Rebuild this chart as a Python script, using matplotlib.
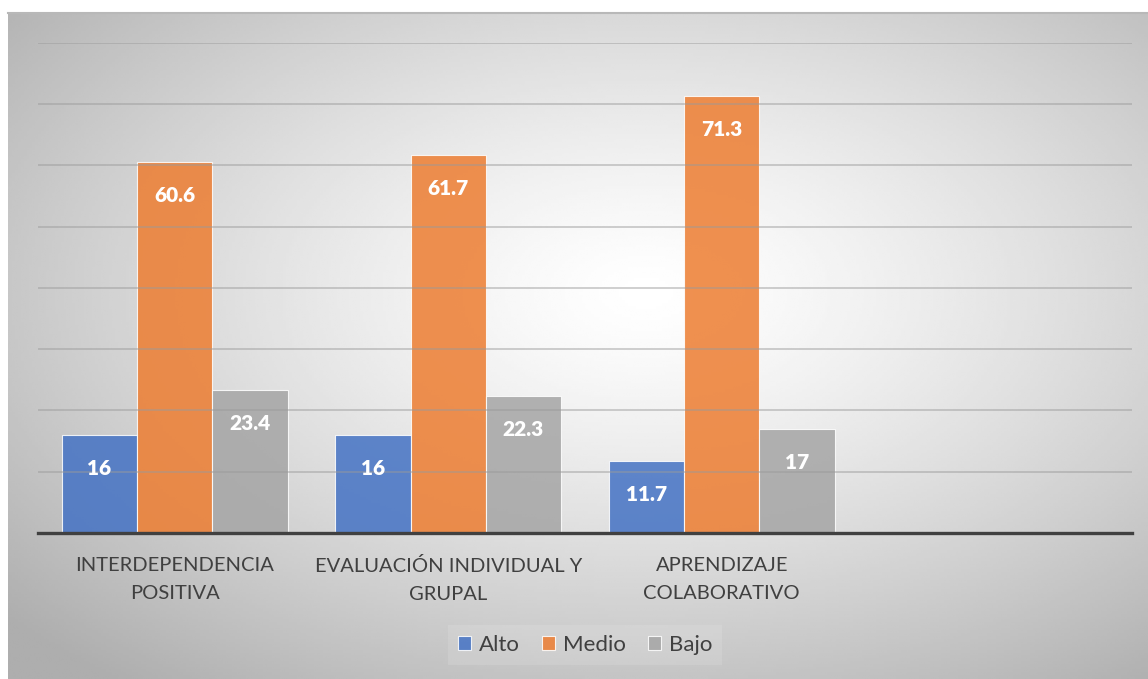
import numpy as np
import matplotlib.pyplot as plt

# chart data
categories = ["INTERDEPENDENCIA\nPOSITIVA", "EVALUACIÓN INDIVIDUAL Y\nGRUPAL",
              "APRENDIZAJE\nCOLABORATIVO", ""]
series_names = ["Alto", "Medio", "Bajo"]
alto = [16, 16, 11.7]
medio = [60.6, 61.7, 71.3]
bajo = [23.4, 22.3, 17]
colors = ["#4472C4", "#ED7D31", "#A5A5A5"]

plt.rcParams['font.family'] = ['Lato', 'DejaVu Sans']

W, H = 1148, 679
fig = plt.figure(figsize=(W / 100, H / 100), dpi=100)
fig.patch.set_facecolor("white")

# radial gradient background box
bg = fig.add_axes([8 / W, 0, 1 - 8 / W, (H - 13) / H])
gx, gy = np.meshgrid(np.linspace(0, 1, 400), np.linspace(0, 1, 240))
d = np.sqrt(((gx - 0.56) / 0.75) ** 2 + ((gy - 0.42) / 0.75) ** 2)
shade = 1.0 - 0.32 * np.clip(d, 0, 1) ** 1.3
bg.imshow(shade, cmap="gray", vmin=0, vmax=1, aspect="auto",
          extent=[0, 1, 0, 1], origin="upper", interpolation="bilinear")
bg.set_axis_off()
bg.plot([0, 1], [1, 1], color="#b8b8b8", lw=1.5, transform=bg.transAxes, clip_on=False)

ax = fig.add_axes([38 / W, (H - 533) / H, (1132 - 38) / W, (533 - 42.6) / H])
ax.set_facecolor("none")

x = np.arange(len(categories))
n = len(alto)
width = 0.275
for i, (name, vals, c) in enumerate(zip(series_names, [alto, medio, bajo], colors)):
    bars = ax.bar(x[:n] + (i - 1) * width, vals, width, color=c, alpha=0.85,
                  edgecolor="white", linewidth=0.8, label=name, zorder=2)
    ax.bar_label(bars, fmt="%g", padding=-31, color="white", fontsize=15,
                 fontweight="heavy", zorder=4)

ax.set_xlim(-0.5, len(categories) - 0.5)
ax.set_ylim(0, 80)
ax.set_yticks(np.arange(0, 81, 10))
ax.yaxis.grid(True, color="#9a9a9a", alpha=0.55, lw=1.2, zorder=3)
ax.set_axisbelow(False)
ax.tick_params(axis="y", left=False, labelleft=False)
ax.tick_params(axis="x", bottom=False, pad=14)
ax.set_xticks(x)
ax.set_xticklabels(categories, fontsize=14.5, color="#404040", linespacing=1.75)
for s in ["top", "right", "left"]:
    ax.spines[s].set_visible(False)
ax.spines["bottom"].set_color("#404040")
ax.spines["bottom"].set_linewidth(2.4)
ax.spines["bottom"].set_zorder(5)

leg = ax.legend(loc="center", bbox_to_anchor=(0.5, (533 - 645) / (533 - 42.6)),
                ncol=3, frameon=True, fontsize=16, handlelength=0.6,
                handleheight=0.6, handletextpad=0.35, columnspacing=1.0,
                labelcolor="#404040", borderpad=0.45)
leg.get_frame().set_facecolor("white")
leg.get_frame().set_alpha(0.12)
leg.get_frame().set_edgecolor("none")
leg.get_frame().set_boxstyle("square", pad=0)

fig.savefig("out.png", dpi=100)
